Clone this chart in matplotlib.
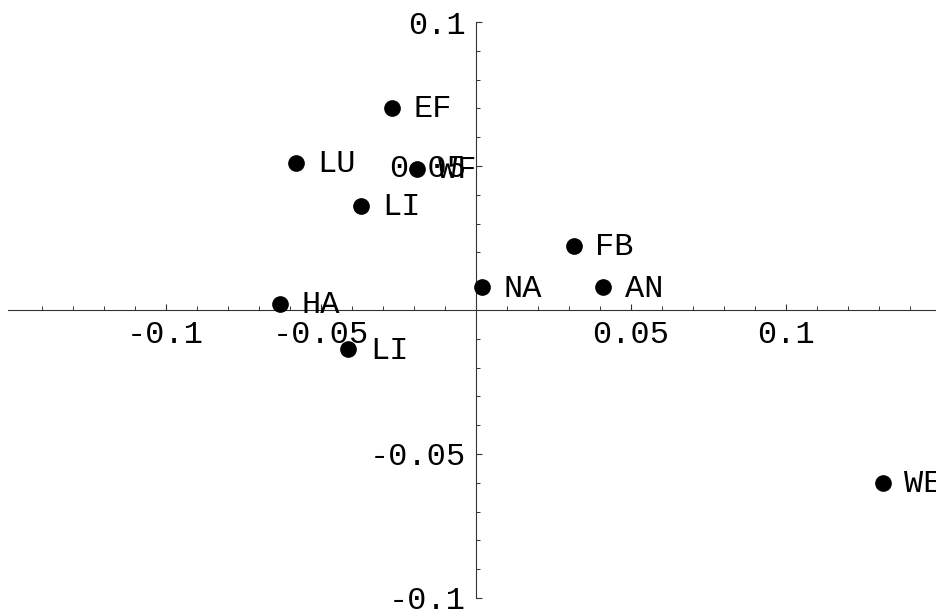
import numpy as np
import matplotlib
matplotlib.use("Agg")
import matplotlib.pyplot as plt

# point labels and coordinates
names = ["EF", "WF", "LU", "LI", "FB", "NA", "AN", "HA", "LI", "WE"]
xs = [-0.0271, -0.0190, -0.0581, -0.0371, 0.0317, 0.0021, 0.0412, -0.0631, -0.0411, 0.1313]
ys = [0.0702, 0.0490, 0.0511, 0.0361, 0.0222, 0.0079, 0.0079, 0.0021, -0.0137, -0.0600]

major_ticks = [-0.1, -0.05, 0.05, 0.1]
tick_labels = ["-0.1", "-0.05", "0.05", "0.1"]

fig = plt.figure(figsize=(9.37, 6.14), dpi=100)
ax = fig.add_axes([0, 0, 1, 1])

ax.set_xlim(-0.15345, 0.14881)
ax.set_ylim(-0.10556, 0.10764)

# axes crossing at origin, Mathematica style
for side in ["top", "right"]:
    ax.spines[side].set_visible(False)
ax.spines["left"].set_position(("data", 0))
ax.spines["bottom"].set_position(("data", 0))
ax.spines["left"].set_bounds(-0.1, 0.1)
ax.spines["bottom"].set_bounds(-0.151, 0.14881)
for side in ["left", "bottom"]:
    ax.spines[side].set_linewidth(0.8)
    ax.spines[side].set_color("#333333")

ax.set_xticks(major_ticks)
ax.set_xticklabels(tick_labels)
ax.set_yticks(major_ticks)
ax.set_yticklabels(tick_labels)
ax.set_xticks([v / 100 for v in range(-15, 15) if v % 5 != 0], minor=True)
ax.set_yticks([v / 100 for v in range(-10, 11) if v % 5 != 0], minor=True)

ax.tick_params(which="major", direction="in", length=4.5, width=0.8, color="#333333",
               labelsize=23, pad=7)
ax.tick_params(which="minor", direction="in", length=3, width=0.7, color="#333333")
for lab in ax.get_xticklabels() + ax.get_yticklabels():
    lab.set_family("Liberation Mono")
for lab in ax.get_yticklabels():
    lab.set_verticalalignment("center_baseline")

ax.plot(xs, ys, "o", color="black", markersize=11, zorder=3)
for n, x, y in zip(names, xs, ys):
    ax.annotate(n, (x, y), xytext=(15.5, 1.5), textcoords="offset points",
                va="center_baseline", ha="left", fontsize=23, family="Liberation Mono",
                annotation_clip=False)

fig.savefig("out.png", dpi=100)
